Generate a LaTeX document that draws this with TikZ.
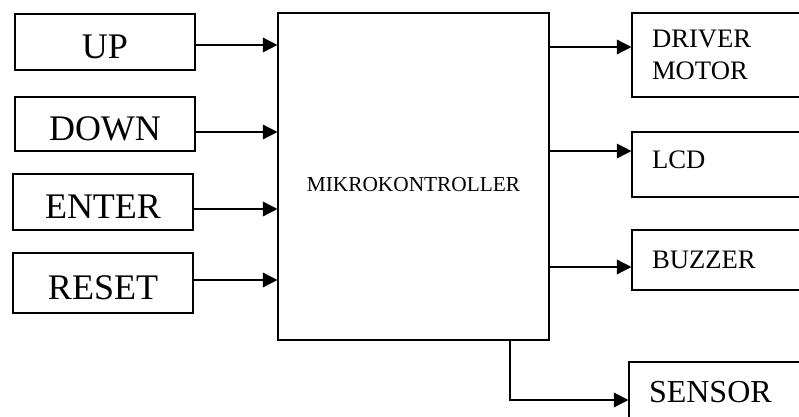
\documentclass[tikz,border=0pt]{standalone}
\usepackage{fontspec}
\setmainfont{Liberation Serif}
\usetikzlibrary{arrows.meta,positioning}
\tikzset{
    buttonbox/.style={draw, line width=0.8pt, align=center, font=\fontsize{27}{30}\selectfont, minimum width=135pt, text height=25pt, text depth=0pt, inner sep=0pt},
    mcubox/.style={draw, line width=0.8pt, align=center, font=\fontsize{16}{19}\selectfont, minimum width=203.25pt, minimum height=245.25pt, text height=21.8pt, text depth=0pt},
    outputbox/.style={draw, line width=0.8pt, align=left, font=\fontsize{20}{24}\selectfont, text width=112.5pt, inner xsep=15pt, inner ysep=0pt},
    signalarrow/.style={-{Triangle[length=11pt, width=11pt]}, line width=1pt}
}
\begin{document}
\begin{tikzpicture}[x=0.75pt, y=-0.75pt]
        \useasboundingbox (0,0) rectangle (799,417);
        \clip (0,0) rectangle (799,417);
        % inputs
        \node[buttonbox, minimum height=42pt] (up) at (105,42) {UP};
        \node[buttonbox, minimum height=40.5pt] (down) at (105,124) {DOWN};
        \node[buttonbox, minimum height=42pt] (enter) at (103,202) {ENTER};
        \node[buttonbox, minimum height=45pt] (reset) at (103,283) {RESET};
        \node[mcubox] (mcu) at (413.5,176.5) {MIKROKONTROLLER};
        % outputs
        \node[outputbox, minimum height=63pt] (drv) at (727,55) {DRIVER\\MOTOR};
        \node[outputbox, minimum height=48.75pt, text depth=6.75pt] (lcd) at (727,164.5) {LCD};
        \node[outputbox, minimum height=45pt] (buz) at (727,260) {BUZZER};
        \node[outputbox, minimum height=45pt, font=\fontsize{24}{28}\selectfont] (sens) at (724,392) {SENSOR};
        \draw[signalarrow] ([yshift=-2.25pt]up.east) -- ([yshift=-2.25pt]up.east -| mcu.west);
        \draw[signalarrow] ([yshift=-6pt]down.east) -- ([yshift=-6pt]down.east -| mcu.west);
        \draw[signalarrow] ([yshift=-5.25pt]enter.east) -- ([yshift=-5.25pt]enter.east -| mcu.west);
        \draw[signalarrow] ([yshift=2.25pt]reset.east) -- ([yshift=2.25pt]reset.east -| mcu.west);
        \draw[signalarrow] ([yshift=6pt]drv.west -| mcu.east) -- ([yshift=6pt]drv.west);
        \draw[signalarrow] ([yshift=10.1pt]lcd.west -| mcu.east) -- ([yshift=10.1pt]lcd.west);
        \draw[signalarrow] ([yshift=-5.25pt]buz.west -| mcu.east) -- ([yshift=-5.25pt]buz.west);
        \draw[signalarrow] ([xshift=72.4pt]mcu.south) |- ([yshift=-6pt]sens.west);
    \end{tikzpicture}
\end{document}
